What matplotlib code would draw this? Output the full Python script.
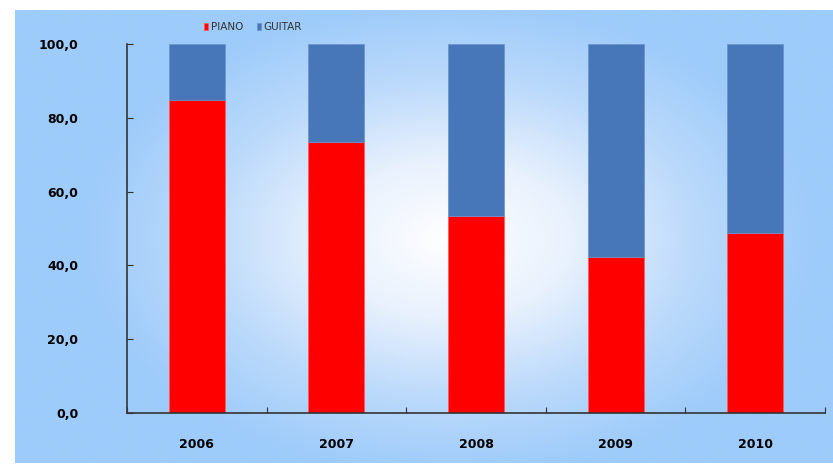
import matplotlib.pyplot as plt
import numpy as np
from matplotlib.colors import LinearSegmentedColormap

years = ['2006', '2007', '2008', '2009', '2010']
piano = [84.8, 73.4, 53.4, 42.3, 48.8]
guitar = [100 - p for p in piano]
y_ticks = [0, 20, 40, 60, 80, 100]

fig = plt.figure(figsize=(8.33, 4.65), dpi=100)
W, H = 833, 465

# blue panel with a soft white glow in the middle
bg = fig.add_axes([15 / W, 2 / H, 818 / W, 453 / H])
bg.set_axis_off()
xx, yy = np.meshgrid(np.linspace(-1, 1, 400), np.linspace(-1, 1, 240))
cx, cy = (450 - 424) / 409, (235 - 232) / 226
r = np.sqrt(((xx - cx) / 0.9) ** 2 + ((yy - cy) / 1.05) ** 2)
cmap = LinearSegmentedColormap.from_list('glow', ['#ffffff', '#e8f1fd', '#bcdafb', '#9dcbfa'])
bg.imshow(np.clip(r, 0, 1), cmap=cmap, aspect='auto', extent=[0, 1, 0, 1], vmin=0, vmax=1)

ax = fig.add_axes([127 / W, (H - 413) / H, 698 / W, 369 / H])
ax.patch.set_alpha(0)
x = np.arange(len(years))
ax.bar(x, piano, width=0.4, color='#ff0000', edgecolor='#ff5a5a', linewidth=0.5, label='PIANO')
ax.bar(x, guitar, width=0.4, bottom=piano, color='#4877b9', edgecolor='#6a92c8', linewidth=0.5, label='GUITAR')

ax.set_xlim(-0.5, 4.5)
ax.set_ylim(0, 100)
ax.set_yticks(y_ticks)
ax.set_yticklabels([f'{v:.1f}'.replace('.', ',') for v in y_ticks], fontsize=9, fontweight='bold')
ax.set_xticks(np.arange(-0.5, 5, 1))
ax.set_xticklabels([])
ax.set_xticks(x, minor=True)
ax.set_xticklabels(years, minor=True, fontsize=9, fontweight='bold')
ax.tick_params(axis='x', which='minor', length=0, pad=18)
ax.tick_params(axis='x', which='major', direction='in', length=4, color='#333333')
ax.tick_params(axis='y', direction='in', length=4, pad=35, color='#333333')
for s in ['top', 'right']:
    ax.spines[s].set_visible(False)
for s in ['left', 'bottom']:
    ax.spines[s].set_color('#333333')
    ax.spines[s].set_linewidth(1.2)

ax.legend(loc='lower left', bbox_to_anchor=(73 / 698, 1.02), ncol=2, frameon=False,
          fontsize=7.5, handlelength=0.4, handleheight=0.7, handletextpad=0.25,
          columnspacing=1.3, labelcolor='#333333', borderaxespad=0)

fig.savefig('out.png', dpi=100)
